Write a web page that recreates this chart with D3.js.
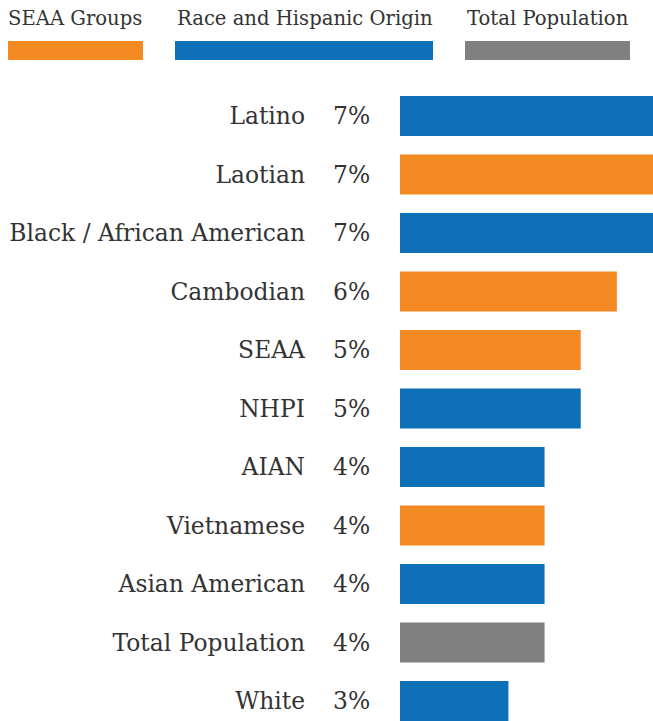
<!DOCTYPE html>
<html>
<head>
<meta charset="utf-8">
<script src="https://cdn.jsdelivr.net/npm/d3@7"></script>
<style>
  html, body { margin: 0; padding: 0; background: #fff; }
  svg { display: block; }
  text { font-family: "DejaVu Serif", serif; fill: #333; }
</style>
</head>
<body>
<div id="chart"></div>
<script>
// Share of population by group (percent)
const categories = ["Latino", "Laotian", "Black / African American", "Cambodian", "SEAA", "NHPI", "AIAN", "Vietnamese", "Asian American", "Total Population", "White"];
const values = [7, 7, 7, 6, 5, 5, 4, 4, 4, 4, 3];
const groups = ["race", "seaa", "race", "seaa", "seaa", "race", "race", "seaa", "race", "total", "race"];

const legendKeys = ["seaa", "race", "total"];
const legendLabels = ["SEAA Groups", "Race and Hispanic Origin", "Total Population"];
const legendColors = ["#F28A21", "#0E71B8", "#808080"];

const W = 653, H = 721;
const svg = d3.select("#chart").append("svg").attr("width", W).attr("height", H);

const color = d3.scaleOrdinal().domain(legendKeys).range(legendColors);

// Legend: label above a wide swatch
const legendX = [8, 175, 465];
const legendW = [135, 258, 165];
const lg = svg.append("g").selectAll("g").data(legendKeys).join("g")
  .attr("transform", (d, i) => `translate(${legendX[i]},0)`);
lg.append("text")
  .attr("x", (d, i) => i === 0 ? 0 : 2)
  .attr("y", 25)
  .style("font-size", "19.6px")
  .text((d, i) => legendLabels[i]);
lg.append("rect")
  .attr("x", 0).attr("y", 41)
  .attr("width", (d, i) => legendW[i]).attr("height", 19)
  .attr("fill", d => color(d));

// Bars
const x = d3.scaleLinear().domain([0, 7]).range([400, 653]);
const y = d3.scaleBand().domain(categories).range([96, 721]).paddingInner(0.316).paddingOuter(0);

const rows = svg.append("g").selectAll("g").data(categories).join("g");

rows.append("rect")
  .attr("x", x(0))
  .attr("y", d => y(d))
  .attr("width", (d, i) => x(values[i]) - x(0))
  .attr("height", y.bandwidth())
  .attr("fill", (d, i) => color(groups[i]));

rows.append("text")
  .attr("x", 305)
  .attr("y", d => y(d) + y.bandwidth() / 2)
  .attr("dy", "0.35em")
  .attr("text-anchor", "end")
  .style("font-size", "23.4px")
  .text(d => d);

rows.append("text")
  .attr("x", 333)
  .attr("y", d => y(d) + y.bandwidth() / 2)
  .attr("dy", "0.35em")
  .style("font-size", "23.4px")
  .text((d, i) => values[i] + "%");
</script>
</body>
</html>
